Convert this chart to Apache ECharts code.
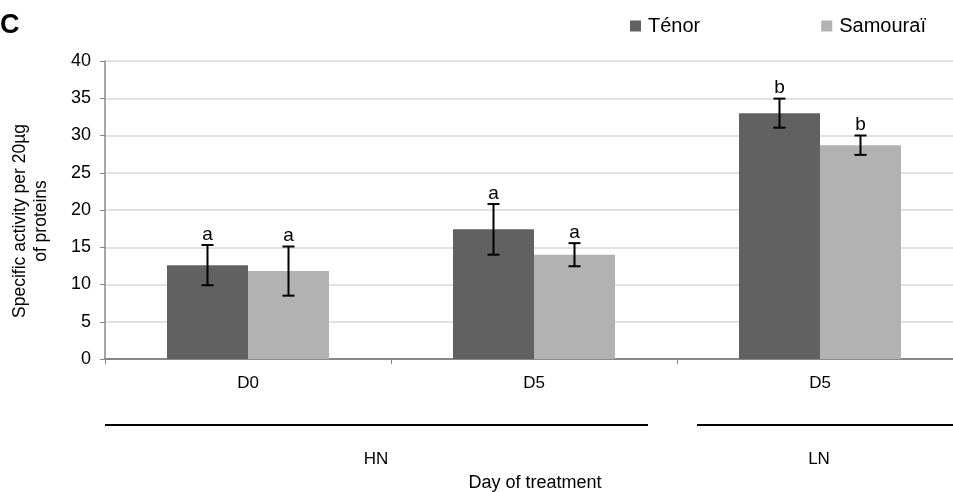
<!DOCTYPE html>
<html><head><meta charset="utf-8">
<script src="https://cdn.jsdelivr.net/npm/echarts@6/dist/echarts.min.js"></script>
<style>html,body{margin:0;padding:0;background:#fff}#c{width:953px;height:492px}</style>
</head><body><div id="c"></div>
<script>
const categories = ['D0', 'D5', 'D5'];
const groupLabels = ['HN', 'LN'];
const seriesNames = ['Ténor', 'Samouraï'];
const tenor = [12.6, 17.4, 33.0];
const samourai = [11.8, 14.0, 28.7];
const tenorErr = [2.7, 3.4, 1.95];
const samouraiErr = [3.3, 1.55, 1.3];
const tenorLetters = ['a', 'a', 'b'];
const samouraiLetters = ['a', 'a', 'b'];
const yMin = 0, yMax = 40, yStep = 5;

const FONT = 'Liberation Sans, Arial, sans-serif';
const BARW = 81;

function errSeries(vals, errs, letters, side) {
  return {
    type: 'custom', z: 10,
    data: vals.map((v, i) => [i, v, errs[i]]),
    renderItem: function (params, api) {
      const i = api.value(0), v = api.value(1), e = api.value(2);
      const c = api.coord([i, v]);
      const x = c[0] + side * BARW / 2;
      const top = api.coord([i, v + e])[1];
      const bot = api.coord([i, v - e])[1];
      const cap = 6;
      const st = { stroke: '#000', lineWidth: 2 };
      return {
        type: 'group', children: [
          { type: 'line', shape: { x1: x, y1: top, x2: x, y2: bot }, style: st },
          { type: 'line', shape: { x1: x - cap, y1: top, x2: x + cap, y2: top }, style: st },
          { type: 'line', shape: { x1: x - cap, y1: bot, x2: x + cap, y2: bot }, style: st },
          { type: 'text', style: { text: letters[params.dataIndex], x: x, y: top - 1, textAlign: 'center', textVerticalAlign: 'bottom', fontFamily: FONT, fontSize: 19, fill: '#000' } }
        ]
      };
    }
  };
}

const chart = echarts.init(document.getElementById('c'));
chart.setOption({
  animation: false,
  textStyle: { fontFamily: FONT },
  grid: { left: 105, top: 61, width: 858, height: 298, outerBoundsMode: 'none', containLabel: false },
  legend: {
    data: seriesNames, left: 630, top: 16, padding: 0, icon: 'rect', itemWidth: 11, itemHeight: 11,
    itemGap: 121, textStyle: { fontSize: 20, color: '#000', fontFamily: FONT, padding: [0, 0, 0, 2] }
  },
  xAxis: {
    type: 'category', data: categories,
    axisLine: { lineStyle: { color: '#888', width: 2 } },
    axisTick: { show: true, length: 5, lineStyle: { color: '#888' } },
    axisLabel: { margin: 16, fontSize: 17, color: '#000', fontFamily: FONT }
  },
  yAxis: {
    type: 'value', min: yMin, max: yMax, interval: yStep,
    axisLine: { show: true, lineStyle: { color: '#888', width: 1.5 } },
    axisTick: { show: true, length: 5, lineStyle: { color: '#888' } },
    splitLine: { lineStyle: { color: '#d9d9d9', width: 1.5 } },
    axisLabel: { margin: 14, fontSize: 18, color: '#000', fontFamily: FONT }
  },
  series: [
    { name: seriesNames[0], type: 'bar', data: tenor, barWidth: BARW, barGap: '0%', itemStyle: { color: '#616161' } },
    { name: seriesNames[1], type: 'bar', data: samourai, barWidth: BARW, barGap: '0%', itemStyle: { color: '#b2b2b2' } },
    errSeries(tenor, tenorErr, tenorLetters, -1),
    errSeries(samourai, samouraiErr, samouraiLetters, 1)
  ],
  graphic: [
    { type: 'text', left: 0, top: 12, style: { text: 'C', font: 'bold 27px ' + FONT, fill: '#000' } },
    { type: 'text', x: 31, y: 221, rotation: Math.PI / 2, style: { text: 'Specific activity per 20µg\nof proteins', textAlign: 'center', textVerticalAlign: 'middle', fontFamily: FONT, fontSize: 17.5, lineHeight: 21, fill: '#000' } },
    { type: 'line', shape: { x1: 105, y1: 425, x2: 648, y2: 425 }, style: { stroke: '#000', lineWidth: 2 } },
    { type: 'line', shape: { x1: 697, y1: 425, x2: 953, y2: 425 }, style: { stroke: '#000', lineWidth: 2 } },
    { type: 'text', x: 376, y: 459, style: { text: groupLabels[0], textAlign: 'center', textVerticalAlign: 'middle', fontFamily: FONT, fontSize: 17, fill: '#000' } },
    { type: 'text', x: 819, y: 459, style: { text: groupLabels[1], textAlign: 'center', textVerticalAlign: 'middle', fontFamily: FONT, fontSize: 17, fill: '#000' } },
    { type: 'text', x: 535, y: 483, style: { text: 'Day of treatment', textAlign: 'center', textVerticalAlign: 'middle', fontFamily: FONT, fontSize: 18, fill: '#000' } }
  ]
});
</script></body></html>
